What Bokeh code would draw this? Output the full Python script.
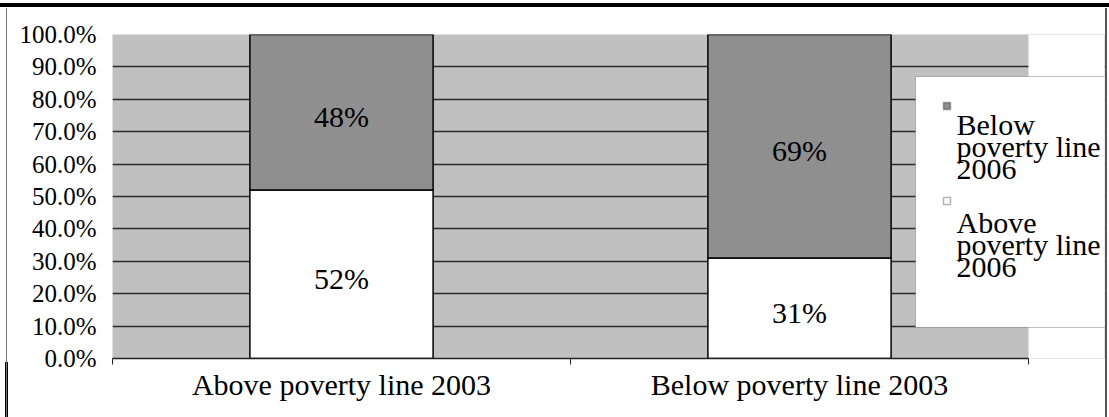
from bokeh.plotting import figure
from bokeh.models import (FixedTicker, NumeralTickFormatter, BoxAnnotation, Label,
                          ColumnDataSource)
from bokeh.core.properties import value
from bokeh.embed import file_html
from bokeh.resources import INLINE

# ---- data ----
categories = ["Above poverty line 2003", "Below poverty line 2003"]
above_2006 = [0.52, 0.31]
below_2006 = [0.48, 0.69]
series_labels = ["Below\npoverty line\n2006", "Above\npoverty line\n2006"]
y_ticks = [0.0, 0.1, 0.2, 0.3, 0.4, 0.5, 0.6, 0.7, 0.8, 0.9, 1.0]

# ---- style / layout ----
FONT = "Liberation Serif"
W, H = 1109, 417
LEFT, RIGHT, TOP, BOTTOM = 112, 5, 34, 59
FRAME_W = W - LEFT - RIGHT
CAT_PX = 458
PLOT_BG = "#c0c0c0"
BELOW_COLOR = "#8f8f8f"
ABOVE_COLOR = "#ffffff"

n = len(categories)
x_end = FRAME_W / CAT_PX
xs = [i + 0.5 for i in range(n)]

# scanned page rules, painted behind a transparent border area
page_bg = ", ".join([
    "linear-gradient(#000,#000) 0px 3px / 100% 4px no-repeat",
    "linear-gradient(#777,#777) 6px 8px / 1px 100% no-repeat",
    "linear-gradient(#000,#000) 5px 362px / 3px 100% no-repeat",
    "linear-gradient(#555,#555) 1105px 8px / 2px 100% no-repeat",
    "#ffffff",
])

p = figure(width=W, height=H, x_range=(0, x_end), y_range=(0, 1),
           output_backend="svg", toolbar_location=None,
           min_border_left=LEFT, min_border_right=RIGHT,
           min_border_top=TOP, min_border_bottom=BOTTOM,
           background_fill_color=PLOT_BG, border_fill_color=None,
           outline_line_color=None, styles={"background": page_bg})
p.title.visible = False

# white area right of the plot area (legend zone)
p.quad(left=[n], right=[x_end], bottom=[0], top=[1],
       fill_color="white", line_color=None)

src = ColumnDataSource(dict(x=xs, above=above_2006, below=below_2006))
p.vbar_stack(["above", "below"], x="x", width=0.4, source=src,
             fill_color=[ABOVE_COLOR, BELOW_COLOR], line_color="black",
             line_width=1.5)

# data labels
lab_x = xs + xs
lab_y = [a / 2 for a in above_2006] + [a + b / 2 for a, b in zip(above_2006, below_2006)]
lab_t = [f"{round(v * 100)}%" for v in above_2006 + below_2006]
p.text(x=lab_x, y=lab_y, text=lab_t, text_align="center", text_baseline="middle",
       text_font=value(FONT), text_font_size="30px", text_color="black", y_offset=4)

# grid
p.xgrid.visible = False
p.ygrid.ticker = FixedTicker(ticks=y_ticks)
p.ygrid.grid_line_color = "#2a2a2a"
p.ygrid.grid_line_width = 1.6

# y axis
p.yaxis.ticker = FixedTicker(ticks=y_ticks)
p.yaxis.formatter = NumeralTickFormatter(format="0.0%")
p.yaxis.axis_line_color = None
p.yaxis.major_tick_line_color = None
p.yaxis.minor_tick_line_color = None
p.yaxis.major_label_standoff = 10
p.yaxis.major_label_text_font = FONT
p.yaxis.major_label_text_font_size = "25px"
p.yaxis.major_label_text_color = "black"

# x axis
p.xaxis.ticker = FixedTicker(ticks=xs, minor_ticks=list(range(n + 1)))
p.xaxis.major_label_overrides = {x: c for x, c in zip(xs, categories)}
p.xaxis.bounds = (0, n)
p.xaxis.axis_line_color = "#222222"
p.xaxis.axis_line_width = 1.5
p.xaxis.major_tick_line_color = None
p.xaxis.minor_tick_line_color = "#222222"
p.xaxis.minor_tick_in = 0
p.xaxis.minor_tick_out = 6
p.xaxis.major_label_standoff = 3
p.xaxis.major_label_text_font = FONT
p.xaxis.major_label_text_font_size = "30px"
p.xaxis.major_label_text_color = "black"

# ---- manual legend (screen units relative to frame, y up) ----
def cy(page_y):
    return H - BOTTOM - page_y

def cx(page_x):
    return page_x - LEFT

def box(l, r, t, b, **kw):
    return BoxAnnotation(left=l, right=r, top=t, bottom=b,
                         left_units="screen", right_units="screen",
                         top_units="screen", bottom_units="screen",
                         fill_alpha=1.0, **kw)

p.add_layout(box(cx(915), cx(1112), cy(76), cy(327),
                 fill_color="white", line_color="#333333", line_width=1))
for col, sq_top, txt_top, txt in [(BELOW_COLOR, 102, 107, series_labels[0]),
                                  (ABOVE_COLOR, 197, 205, series_labels[1])]:
    p.add_layout(box(cx(943), cx(950), cy(sq_top), cy(sq_top + 7),
                     fill_color=col, line_color="black", line_width=1.5))
    p.add_layout(Label(x=cx(956), y=cy(txt_top), x_units="screen", y_units="screen",
                       text=txt, text_baseline="top", text_align="left",
                       text_font=FONT, text_font_size="30px",
                       text_line_height=0.67, text_color="black"))

open("out.html", "w").write(file_html(p, INLINE))
